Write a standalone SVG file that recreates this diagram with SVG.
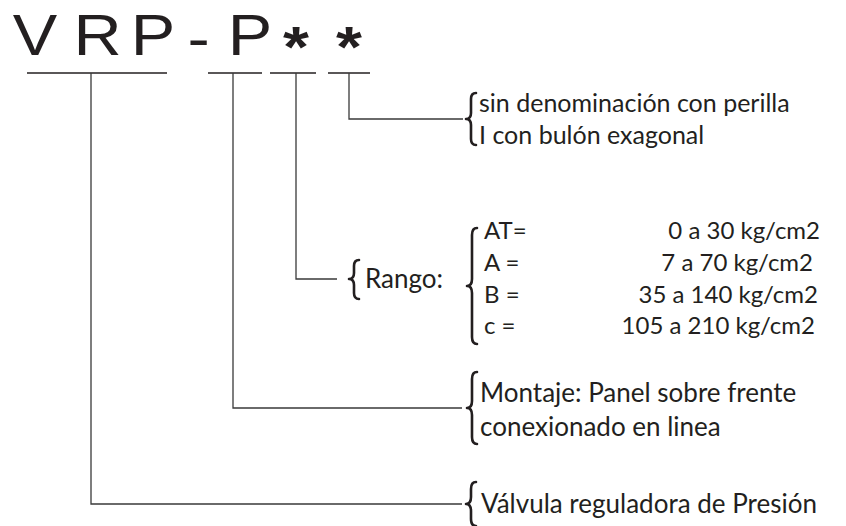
<svg xmlns="http://www.w3.org/2000/svg" width="846" height="526" viewBox="0 0 846 526">
<style>
.t{font-family:"Liberation Sans",Arial,sans-serif;font-size:58px;fill:#231f20;text-anchor:middle}
.ast{font-weight:bold}
.lbl{font-family:Lato,"Open Sans",sans-serif;font-size:26px;fill:#231f20}
.sm{font-size:25px}
.val{font-size:24px}
.ul{stroke:#231f20;stroke-width:1.3;fill:none}
.cn{stroke:#3a3a3a;stroke-width:1.3;fill:none}
.br{stroke:#231f20;stroke-width:2.6;fill:none;stroke-linecap:round;stroke-linejoin:round}
</style>
<rect width="846" height="526" fill="#fff"/>
<g id="code">
<text class="t" transform="translate(35,55) scale(1.15,1)">V</text>
<text class="t" transform="translate(97.5,55) scale(1.15,1)">R</text>
<text class="t" transform="translate(153,55) scale(1.15,1)">P</text>
<text class="t" transform="translate(198.5,58) scale(1.15,1)">-</text>
<text class="t" transform="translate(250,55) scale(1.15,1)">P</text>
<text class="t ast" transform="translate(296,67) scale(1.15,1)">*</text>
<text class="t ast" transform="translate(349,67) scale(1.15,1)">*</text>
<line class="ul" x1="27" y1="73" x2="167" y2="73"/>
<line class="ul" x1="208" y1="73" x2="262" y2="73"/>
<line class="ul" x1="270" y1="73" x2="316" y2="73"/>
<line class="ul" x1="328" y1="73" x2="370" y2="73"/>
</g>
<g id="connectors">
<polyline class="cn" points="349,73 349,119 463,119"/>
<polyline class="cn" points="296,73 296,279 337,279"/>
<polyline class="cn" points="233,73 233,408 462,408"/>
<polyline class="cn" points="91,73 91,504 462,504"/>
</g>
<g id="n-perilla">
<path class="br" d="M476,93 Q471,93 471,99 L471,113 Q471,119 466,119 Q471,119 471,125 L471,139 Q471,145 476,145"/>
<text class="lbl sm" x="479" y="112">sin denominación con perilla</text>
<text class="lbl sm" x="479" y="144">I con bulón exagonal</text>
</g>
<g id="n-rango">
<path class="br" d="M359,260 Q354,260 354,266 L354,273 Q354,279 349,279 Q354,279 354,285 L354,293 Q354,299 359,299"/>
<text class="lbl" x="365" y="288">Rango:</text>
<path class="br" d="M477,228 Q472,228 472,235 L472,279 Q472,286 467,286 Q472,286 472,293 L472,337 Q472,344 477,344"/>
<text class="lbl val" x="484" y="239">AT=</text>
<text class="lbl val" x="484" y="271">A =</text>
<text class="lbl val" x="484" y="303">B =</text>
<text class="lbl val" x="484" y="334">c =</text>
<text class="lbl val" x="820" y="239" text-anchor="end">0 a 30 kg/cm2</text>
<text class="lbl val" x="813" y="271" text-anchor="end">7 a 70 kg/cm2</text>
<text class="lbl val" x="818" y="303" text-anchor="end">35 a 140 kg/cm2</text>
<text class="lbl val" x="815" y="334" text-anchor="end">105 a 210 kg/cm2</text>
</g>
<g id="n-montaje">
<path class="br" d="M477,372 Q472,372 472,379 L472,401 Q472,408 467,408 Q472,408 472,415 L472,437 Q472,444 477,444"/>
<text class="lbl" x="480" y="402">Montaje: Panel sobre frente</text>
<text class="lbl" x="480" y="436">conexionado en linea</text>
</g>
<g id="n-valvula">
<path class="br" d="M476,482 Q471,482 471,489 L471,497 Q471,504 466,504 Q471,504 471,511 L471,519 Q471,526 476,526"/>
<text class="lbl" x="481" y="513">Válvula reguladora de Presión</text>
</g>
</svg>
